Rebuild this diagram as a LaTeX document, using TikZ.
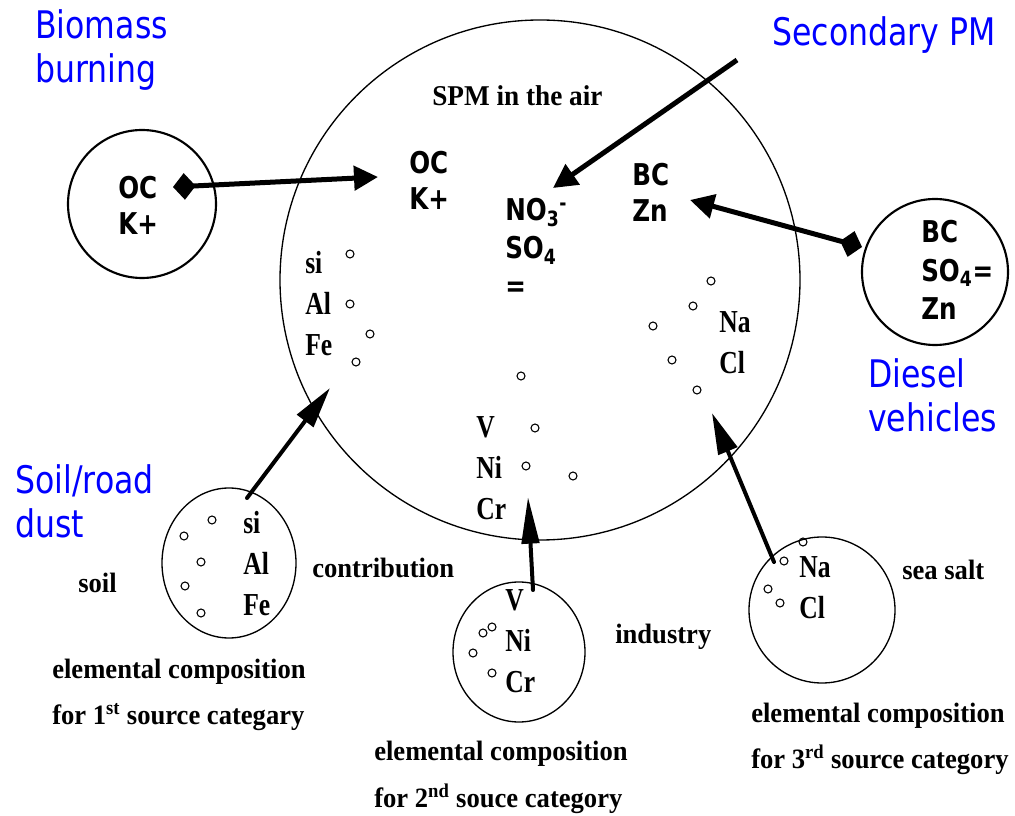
\documentclass[tikz,border=0pt]{standalone}
\usepackage{fontspec}
\setmainfont{Liberation Serif}
\newfontfamily\elfont{Liberation Serif}[FakeStretch=0.8]
\newfontfamily\lblfont{Liberation Serif}[FakeStretch=0.95]
\newfontfamily\srcfont{DejaVu Sans}[FakeStretch=0.83]
\newfontfamily\chemfont{DejaVu Sans}[FakeStretch=0.82]
\usetikzlibrary{shapes.geometric, arrows.meta}
\tikzset{
  ring/.style={circle,draw,inner sep=0pt},
  oval/.style={ellipse,draw,inner sep=0pt,line width=1pt},
  elem/.style={anchor=north west,inner sep=0pt,align=left,
    font=\elfont\bfseries\fontsize{24}{30.75}\selectfont},
  chem/.style={anchor=north west,inner sep=0pt,align=left,
    font=\chemfont\bfseries\fontsize{22.5}{27}\selectfont},
  src/.style={anchor=north west,inner sep=0pt,align=left,text=blue,
    font=\srcfont\fontsize{28.5}{33}\selectfont},
  lbl/.style={anchor=base west,inner sep=0pt,
    font=\lblfont\bfseries\fontsize{21}{25}\selectfont},
  captext/.style={anchor=north west,inner sep=0pt,align=left,
    font=\lblfont\bfseries\fontsize{21}{34.5}\selectfont},
  speck/.style={draw,line width=0.8pt},
  arr/.style={line width=3.75pt,-{Triangle[length=18pt,width=18pt]}},
  srcarr/.style={arr,{Diamond[length=17pt,width=20pt]}-{Triangle[length=18pt,width=18pt]}},
  uparr/.style={line width=3pt,line cap=round,-{Triangle[length=31pt,width=15pt]}}
}

\begin{document}
\begin{tikzpicture}[x=0.75pt,y=-0.75pt]
  \useasboundingbox (0,0) rectangle (1015,816);

  % SPM in the air
  \node[ring,minimum size=390pt,line width=1pt] (air) at (540,280) {};
  \node[lbl,font=\lblfont\bfseries\fontsize{21.5}{26}\selectfont] (airlbl) at (432,106) {SPM in the air};
  \node[chem] (airoc) at (409,151) {OC\\K+};
  \node[chem,font=\chemfont\bfseries\fontsize{22.5}{28.5}\selectfont]
    (no3) at (505,198) {NO\textsubscript{3}\textsuperscript{-}\\SO\textsubscript{4}\\=};
  \node[chem] (airbc) at (632,163) {BC\\Zn};
  \node[elem] (airsoil) at (305,251) {si\\Al\\Fe};
  \node[elem] (airind) at (476,416) {V\\Ni\\Cr};
  \node[elem] (airsea) at (719,311) {Na\\Cl};
  \foreach \x/\y in {350/254,350/304,370/334,356/362,521/376,535/428,526/466,
    573/476,711/281,693/306,653/326,672/360,697/390}
    \draw[speck] (\x,\y) circle[radius=3pt];

  % Biomass burning
  \node[ring,minimum size=111pt,line width=1.6pt] (bb) at (142,204) {};
  \node[chem] (bbchem) at (118,176) {OC\\K+};
  \node[src] (bblbl) at (35,9) {Biomass\\burning};
  \draw[srcarr] ([shift={(31,-17)}]bb.center) -- ([shift={(-31,26)}]airoc.north west);

  % Secondary PM
  \node[src,anchor=base west] (spm) at (772,46) {Secondary PM};
  \draw[arr] ([shift={(-35,14)}]spm.base west) -- ([shift={(48,-10)}]no3.north west);

  % Diesel vehicles
  \node[ring,minimum size=109.5pt,line width=1.6pt] (dv) at (935,272) {};
  \node[chem,font=\chemfont\bfseries\fontsize{22.5}{29}\selectfont]
    (dvchem) at (921,220) {BC\\SO\textsubscript{4}=\\Zn};
  \node[src] (dvlbl) at (868,358) {Diesel\\vehicles};
  \draw[srcarr] ([shift={(-73,-25)}]dv.center) -- ([shift={(58,37)}]airbc.north west);

  % Soil/road dust
  \node[oval,minimum width=100.5pt,minimum height=112.5pt] (soil) at (229,563) {};
  \node[elem] (soilel) at (243,511) {si\\Al\\Fe};
  \foreach \x/\y in {212/520,184/536,201/562,185/586,201/613}
    \draw[speck] (\x,\y) circle[radius=3pt];
  \node[src] (soillbl) at (15,464) {Soil/road\\dust};
  \node[lbl] (soiltag) at (78,593) {soil};
  \node[lbl] (contrib) at (312,578) {contribution};
  \node[captext] (cat1) at (52,659) {elemental composition\\for 1\textsuperscript{st} source categary};
  \draw[uparr] ([shift={(18,-65)}]soil.center) -- ([shift={(25,137)}]airsoil.north west);

  % Industry
  \node[oval,minimum width=99pt,minimum height=105pt] (ind) at (519,652) {};
  \node[elem] (indel) at (505,589) {V\\Ni\\Cr};
  \foreach \x/\y in {492/627,483/633,473/653,492/673}
    \draw[speck] (\x,\y) circle[radius=3pt];
  \node[lbl] (indtag) at (615,643) {industry};
  \node[captext,font=\lblfont\bfseries\fontsize{21}{35.25}\selectfont]
    (cat2) at (374,741) {elemental composition\\for 2\textsuperscript{nd} souce category};
  \draw[uparr,-{Triangle[length=35pt,width=13pt]}] ([shift={(14,-62)}]ind.center) -- ([shift={(52,81)}]airind.north west);

  % Sea salt
  \node[ring,minimum size=109.5pt,line width=1pt] (sea) at (822,610) {};
  \node[elem] (seael) at (799,556) {Na\\Cl};
  \foreach \x/\y in {803/542,784/561,768/589,780/603}
    \draw[speck] (\x,\y) circle[radius=3pt];
  \node[lbl] (seatag) at (902,580) {sea salt};
  \node[captext] (cat3) at (751,703) {elemental composition\\for 3\textsuperscript{rd} source category};
  \draw[uparr] ([shift={(-48,-48)}]sea.center) -- ([shift={(-7,102)}]airsea.north west);

\end{tikzpicture}
\end{document}
